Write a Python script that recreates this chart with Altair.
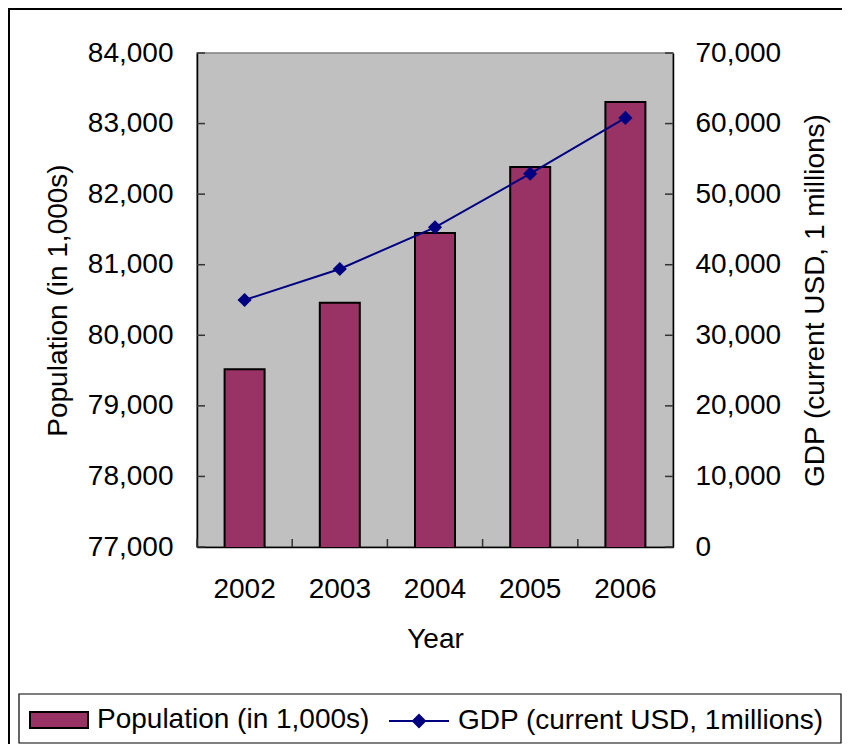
import altair as alt
import pandas as pd

# ---- data ----
years = ["2002", "2003", "2004", "2005", "2006"]
population = [79520, 80460, 81450, 82385, 83306]      # in 1,000s
gdp = [35000, 39400, 45300, 52900, 60800]             # current USD, millions
pop_ticks = [77000, 78000, 79000, 80000, 81000, 82000, 83000, 84000]
gdp_ticks = [0, 10000, 20000, 30000, 40000, 50000, 60000, 70000]
pop_label = "Population (in 1,000s)"
gdp_label = "GDP (current USD, 1millions)"

df = pd.DataFrame({
    "Year": years,
    "Population": population,
    "GDP": gdp,
    "pop_series": [pop_label] * len(years),
    "gdp_series": [gdp_label] * len(years),
})
pop_tick_df = pd.DataFrame({"v": pop_ticks})
gdp_tick_df = pd.DataFrame({"v": gdp_ticks})
one = pd.DataFrame({"k": [0]})

W, H = 476, 494
FONT = "Liberation Sans"
FS = 28
BAR = "#993366"
NAVY = "#000080"

pop_scale = alt.Scale(domain=[77000, 84000], nice=False, zero=False)
gdp_scale = alt.Scale(domain=[0, 70000], nice=False, zero=False)
x_scale = alt.Scale(paddingInner=0, paddingOuter=0)

x_axis = alt.Axis(title="Year", labelAngle=0, ticks=False, tickSize=0,
                  labelPadding=28, domainColor="black", domainWidth=1.5,
                  titleY=92, titleBaseline="middle", titleFontWeight="normal")

frame = alt.Chart(one).mark_rect(fillOpacity=0, stroke="black", strokeWidth=2).encode(
    x=alt.value(-188), x2=alt.value(720), y=alt.value(-44), y2=alt.value(760)
)
legend_box = alt.Chart(one).mark_rect(fillOpacity=0, stroke="black", strokeWidth=1.2).encode(
    x=alt.value(-178), x2=alt.value(644), y=alt.value(641), y2=alt.value(690)
)

bars = alt.Chart(df).mark_bar(size=40, stroke="black", strokeWidth=2, clip=True).encode(
    x=alt.X("Year:N", scale=x_scale, axis=x_axis),
    y=alt.Y("Population:Q", scale=pop_scale,
            axis=alt.Axis(title=pop_label, values=pop_ticks, format=",d", ticks=False, tickSize=0,
                          labelPadding=24, domainColor="black", domainWidth=1.5,
                          titleAngle=-90, titleX=-139, titleY=247, titleAlign="center",
                          titleBaseline="middle", titleFontWeight="normal")),
    color=alt.Color("pop_series:N", scale=alt.Scale(domain=[pop_label], range=[BAR]),
                    legend=alt.Legend(orient="none", legendX=-168, legendY=637, title=None,
                                      symbolType="M-1,-0.276H1V0.276H-1Z", symbolSize=3364,
                                      symbolOffset=0, labelOffset=8, padding=0, labelLimit=0,
                                      labelFont=FONT, labelFontSize=FS, labelColor="black",
                                      symbolFillColor=BAR, symbolStrokeColor="black",
                                      symbolStrokeWidth=2, symbolOpacity=1)),
)

pop_tick_rules = alt.Chart(pop_tick_df).mark_rule(color="#333333", strokeWidth=1.5).encode(
    y=alt.Y("v:Q", scale=pop_scale, axis=None), x=alt.value(0), x2=alt.value(8)
)

line = alt.Chart(df).mark_line(color=NAVY, strokeWidth=2).encode(
    x=alt.X("Year:N"),
    y=alt.Y("GDP:Q", scale=gdp_scale,
            axis=alt.Axis(orient="right", title="GDP (current USD, 1 millions)", values=gdp_ticks,
                          format=",d", ticks=False, tickSize=0, labelPadding=22,
                          domainColor="black", domainWidth=1.5,
                          titleAngle=-90, titleX=142, titleY=247, titleAlign="center",
                          titleBaseline="middle", titleFontWeight="normal")),
)

points = alt.Chart(df).mark_point(shape="diamond", filled=True, size=200, opacity=1).encode(
    x=alt.X("Year:N"),
    y=alt.Y("GDP:Q", scale=gdp_scale, axis=None),
    color=alt.Color("gdp_series:N", scale=alt.Scale(domain=[gdp_label], range=[NAVY]),
                    legend=alt.Legend(orient="none", legendX=191, legendY=637, title=None,
                                      symbolType="M-1,0H1M0,-0.2L0.2,0L0,0.2L-0.2,0Z",
                                      symbolSize=3600, symbolOffset=0, labelOffset=8,
                                      padding=0, labelLimit=0,
                                      labelFont=FONT, labelFontSize=FS, labelColor="black",
                                      symbolFillColor=NAVY, symbolStrokeColor=NAVY,
                                      symbolStrokeWidth=2, symbolOpacity=1)),
)

gdp_tick_rules = alt.Chart(gdp_tick_df).mark_rule(color="#333333", strokeWidth=1.5).encode(
    y=alt.Y("v:Q", scale=gdp_scale, axis=None), x=alt.value(W - 8), x2=alt.value(W)
)

x_tick_rules = alt.Chart(df).mark_rule(color="#333333", strokeWidth=1.5).encode(
    x=alt.X("Year:N", bandPosition=0), y=alt.value(H - 8), y2=alt.value(H)
)

chart = alt.layer(
    frame, legend_box, bars, pop_tick_rules, x_tick_rules, line, points, gdp_tick_rules
).resolve_scale(
    y="independent", color="independent"
).properties(
    width=W, height=H,
    autosize=alt.AutoSizeParams(type="none"),
    padding={"left": 189, "top": 45, "right": 169, "bottom": 197},
    background="white",
).configure_view(
    fill="#C0C0C0", stroke="#808080", strokeWidth=1.5
).configure_axis(
    grid=False, labelFont=FONT, labelFontSize=FS, labelColor="black",
    titleFont=FONT, titleFontSize=FS, titleColor="black",
)

chart.save("out.html", embed_options={"renderer": "svg", "actions": False})
